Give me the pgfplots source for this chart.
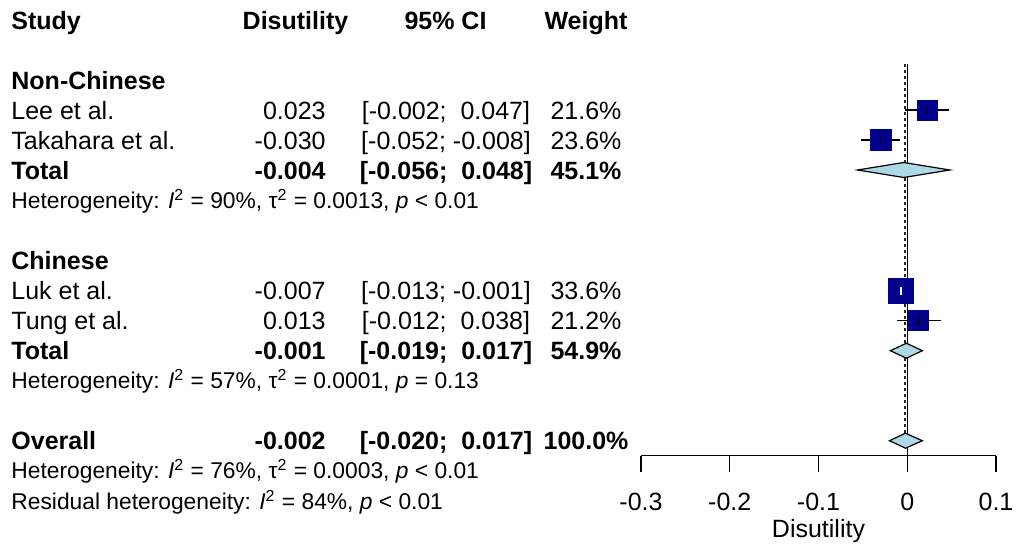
\documentclass[border=0pt]{standalone}
\usepackage{fontspec}
\setmainfont{Liberation Sans}
\usepackage{pgfplots}
\pgfplotsset{compat=1.18}
\definecolor{sqblue}{RGB}{0,0,139}
\definecolor{diamblue}{RGB}{173,216,230}
\newcommand{\mainf}{\fontsize{12.5}{15}\selectfont}
\newcommand{\hetf}{\fontsize{11.4}{13.5}\selectfont}
\begin{document}
\mainf
\begin{tikzpicture}
\useasboundingbox (0,0) rectangle (508pt,-273pt);
\begin{axis}[
  at={(320.5pt,-227.85pt)}, anchor=south west,
  scale only axis, width=177.5pt, height=195.85pt,
  xmin=-0.3, xmax=0.1, ymin=-455.7, ymax=-64,
  axis x line*=bottom, axis y line=none,
  xtick={-0.3,-0.2,-0.1,0,0.1},
  xticklabels={-0.3,-0.2,-0.1,0,0.1},
  tick align=outside, major tick length=8pt,
  every tick/.style={black, line width=0.65pt},
  axis line style={black, line width=0.65pt},
  xticklabel style={font=\mainf, anchor=base, yshift=-19.5pt},
  xlabel={Disutility},
  xlabel style={font=\mainf, at={(axis description cs:0.5,0)}, anchor=base, yshift=-40.65pt},
  clip=false,
]
% reference lines
\addplot[black, line width=0.7pt] coordinates {(0,-64) (0,-455.7)};
\addplot[black!85, line width=1.0pt, dash pattern=on 1.5pt off 1.5pt] coordinates {(-0.002,-64) (-0.002,-433)};

% Lee et al.
\addplot[only marks, mark=square*, mark size=5.0pt, mark options={fill=sqblue, draw=sqblue, line width=0.4pt}] coordinates {(0.023,-110)};
\addplot[black, line width=0.75pt] coordinates {(-0.002,-110) (0.047,-110)};
\addplot[only marks, mark=|, mark size=2pt, mark options={black, line width=0.75pt}] coordinates {(0.023,-110)};
% Takahara et al.
\addplot[only marks, mark=square*, mark size=5.25pt, mark options={fill=sqblue, draw=sqblue, line width=0.4pt}] coordinates {(-0.030,-140)};
\addplot[black, line width=0.75pt] coordinates {(-0.052,-140) (-0.008,-140)};
\addplot[only marks, mark=|, mark size=2pt, mark options={black, line width=0.75pt}] coordinates {(-0.030,-140)};
% Total non-Chinese
\addplot[fill=diamblue, draw=black, line width=0.6pt] coordinates {(-0.056,-170) (-0.004,-162.5) (0.048,-170) (-0.004,-177.5)} -- cycle;

% Luk et al.
\addplot[only marks, mark=square*, mark size=6.3pt, mark options={fill=sqblue, draw=sqblue, line width=0.4pt}] coordinates {(-0.007,-290.7)};
\addplot[white, line width=0.75pt] coordinates {(-0.013,-290.7) (-0.001,-290.7)};
\addplot[only marks, mark=|, mark size=2pt, mark options={white, line width=0.75pt}] coordinates {(-0.007,-290.7)};
% Tung et al.
\addplot[only marks, mark=square*, mark size=4.96pt, mark options={fill=sqblue, draw=sqblue, line width=0.4pt}] coordinates {(0.013,-320.7)};
\addplot[black, line width=0.75pt] coordinates {(-0.012,-320.7) (0.038,-320.7)};
\addplot[only marks, mark=|, mark size=2pt, mark options={black, line width=0.75pt}] coordinates {(0.013,-320.7)};
% Total Chinese
\addplot[fill=diamblue, draw=black, line width=0.6pt] coordinates {(-0.019,-350.7) (-0.001,-343.2) (0.017,-350.7) (-0.001,-358.2)} -- cycle;
% Overall
\addplot[fill=diamblue, draw=black, line width=0.6pt] coordinates {(-0.020,-440.7) (-0.002,-433.2) (0.017,-440.7) (-0.002,-448.2)} -- cycle;
\end{axis}

\begin{scope}[x=0.5pt, y=-0.5pt]
% header
\node[anchor=base west, inner sep=0pt, font=\mainf\bfseries] at (11,29) {Study};
\node[anchor=base, inner sep=0pt, font=\mainf\bfseries] at (295.5,29) {Disutility};
\node[anchor=base, inner sep=0pt, font=\mainf\bfseries] at (445.5,29) {95\% CI};
\node[anchor=base, inner sep=0pt, font=\mainf\bfseries] at (586,29) {Weight};
% Non-Chinese
\node[anchor=base west, inner sep=0pt, font=\mainf\bfseries] at (11,89) {Non-Chinese};
\node[anchor=base west, inner sep=0pt, font=\mainf] at (11,119) {Lee et al.};
\node[anchor=base east, inner sep=0pt, font=\mainf] at (326,119) {0.023};
\node[anchor=base, inner sep=0pt, font=\mainf] at (446,119) {[-0.002;\ \ 0.047]};
\node[anchor=base, inner sep=0pt, font=\mainf] at (586,119) {21.6\%};
\node[anchor=base west, inner sep=0pt, font=\mainf] at (11,149) {Takahara et al.};
\node[anchor=base east, inner sep=0pt, font=\mainf] at (326,149) {-0.030};
\node[anchor=base, inner sep=0pt, font=\mainf] at (446,149) {[-0.052; -0.008]};
\node[anchor=base, inner sep=0pt, font=\mainf] at (586,149) {23.6\%};
\node[anchor=base west, inner sep=0pt, font=\mainf\bfseries] at (11,179) {Total};
\node[anchor=base east, inner sep=0pt, font=\mainf\bfseries] at (326,179) {-0.004};
\node[anchor=base, inner sep=0pt, font=\mainf\bfseries] at (446,179) {[-0.056;\ \ 0.048]};
\node[anchor=base, inner sep=0pt, font=\mainf\bfseries] at (586,179) {45.1\%};
\node[anchor=base west, inner sep=0pt, font=\hetf] at (11,208.7) {Heterogeneity: \textit{I}\textsuperscript{2} = 90\%, τ\textsuperscript{2} = 0.0013, \textit{p} < 0.01};
% Chinese
\node[anchor=base west, inner sep=0pt, font=\mainf\bfseries] at (11,269.5) {Chinese};
\node[anchor=base west, inner sep=0pt, font=\mainf] at (11,299.7) {Luk et al.};
\node[anchor=base east, inner sep=0pt, font=\mainf] at (326,299.7) {-0.007};
\node[anchor=base, inner sep=0pt, font=\mainf] at (446,299.7) {[-0.013; -0.001]};
\node[anchor=base, inner sep=0pt, font=\mainf] at (586,299.7) {33.6\%};
\node[anchor=base west, inner sep=0pt, font=\mainf] at (11,329.7) {Tung et al.};
\node[anchor=base east, inner sep=0pt, font=\mainf] at (326,329.7) {0.013};
\node[anchor=base, inner sep=0pt, font=\mainf] at (446,329.7) {[-0.012;\ \ 0.038]};
\node[anchor=base, inner sep=0pt, font=\mainf] at (586,329.7) {21.2\%};
\node[anchor=base west, inner sep=0pt, font=\mainf\bfseries] at (11,359.7) {Total};
\node[anchor=base east, inner sep=0pt, font=\mainf\bfseries] at (326,359.7) {-0.001};
\node[anchor=base, inner sep=0pt, font=\mainf\bfseries] at (446,359.7) {[-0.019;\ \ 0.017]};
\node[anchor=base, inner sep=0pt, font=\mainf\bfseries] at (586,359.7) {54.9\%};
\node[anchor=base west, inner sep=0pt, font=\hetf] at (11,388.9) {Heterogeneity: \textit{I}\textsuperscript{2} = 57\%, τ\textsuperscript{2} = 0.0001, \textit{p} = 0.13};
% Overall
\node[anchor=base west, inner sep=0pt, font=\mainf\bfseries] at (11,449.7) {Overall};
\node[anchor=base east, inner sep=0pt, font=\mainf\bfseries] at (326,449.7) {-0.002};
\node[anchor=base, inner sep=0pt, font=\mainf\bfseries] at (446,449.7) {[-0.020;\ \ 0.017]};
\node[anchor=base, inner sep=0pt, font=\mainf\bfseries] at (586,449.7) {100.0\%};
\node[anchor=base west, inner sep=0pt, font=\hetf] at (11,478.9) {Heterogeneity: \textit{I}\textsuperscript{2} = 76\%, τ\textsuperscript{2} = 0.0003, \textit{p} < 0.01};
\node[anchor=base west, inner sep=0pt, font=\hetf] at (11,509) {Residual heterogeneity: \textit{I}\textsuperscript{2} = 84\%, \textit{p} < 0.01};
\end{scope}
\end{tikzpicture}
\end{document}
